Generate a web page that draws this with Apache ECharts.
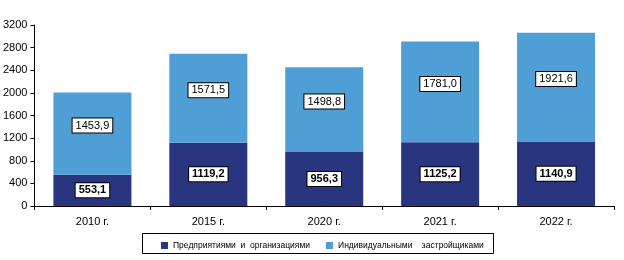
<!DOCTYPE html>
<html>
<head>
<meta charset="utf-8">
<script src="https://cdn.jsdelivr.net/npm/echarts@6/dist/echarts.min.js"></script>
<style>
  html, body { margin: 0; padding: 0; background: #fff; }
  #chart { width: 624px; height: 260px; }
</style>
</head>
<body>
<div id="chart"></div>
<script>
// данные
var years = ['2010 г.', '2015 г.', '2020 г.', '2021 г.', '2022 г.'];
var orgValues = [553.1, 1119.2, 956.3, 1125.2, 1140.9];
var indValues = [1453.9, 1571.5, 1498.8, 1781.0, 1921.6];
var seriesNames = ['Предприятиями  и  организациями', 'Индивидуальными    застройщиками'];

var font = 'Arial, "Liberation Sans", sans-serif';
var fmt = function (p) { return p.value.toFixed(1).replace('.', ','); };

var myChart = echarts.init(document.getElementById('chart'), null, { renderer: 'canvas' });
var option = {
    animation: false,
    backgroundColor: '#fff',
    grid: { left: 34, right: 10, top: 25, bottom: 54 },
    legend: {
        left: 156,
        top: 236,
        itemWidth: 7,
        itemHeight: 7,
        itemGap: 16,
        icon: 'rect',
        textStyle: { fontFamily: font, fontSize: 8.5, color: '#000' },
        data: seriesNames
    },
    graphic: [{
        type: 'rect',
        shape: { x: 142.5, y: 233.5, width: 351, height: 20 },
        style: { fill: 'none', stroke: '#000', lineWidth: 1 },
        z: 10
    }],
    xAxis: {
        type: 'category',
        data: years,
        axisLine: { lineStyle: { color: '#000', width: 1 } },
        axisTick: { show: true, length: 4, lineStyle: { color: '#000' } },
        axisLabel: { fontFamily: font, fontSize: 11, color: '#000', margin: 10 }
    },
    yAxis: {
        type: 'value',
        min: 0,
        max: 3200,
        interval: 400,
        axisLine: { show: true, lineStyle: { color: '#000', width: 1 } },
        axisTick: { show: true, length: 4, lineStyle: { color: '#000' } },
        splitLine: { show: false },
        axisLabel: {
            fontFamily: font, fontSize: 11, color: '#000', margin: 7,
            formatter: function (v) { return String(v); }
        }
    },
    series: [
        {
            name: seriesNames[0],
            type: 'bar',
            stack: 'total',
            barWidth: 78,
            data: orgValues,
            itemStyle: { color: '#29357F' },
            label: {
                show: true,
                position: 'inside',
                formatter: fmt,
                fontFamily: font,
                fontSize: 11,
                fontWeight: 'bold',
                color: '#000',
                backgroundColor: '#fff',
                borderColor: '#000',
                borderWidth: 1,
                padding: [2, 3, 1, 3]
            }
        },
        {
            name: seriesNames[1],
            type: 'bar',
            stack: 'total',
            barWidth: 78,
            data: indValues,
            itemStyle: { color: '#4F9FD6' },
            label: {
                show: true,
                position: 'inside',
                offset: [0, -8],
                formatter: fmt,
                fontFamily: font,
                fontSize: 11,
                color: '#000',
                backgroundColor: '#fff',
                borderColor: '#000',
                borderWidth: 1,
                padding: [2, 3, 1, 3]
            }
        }
    ]
};
myChart.setOption(option);
</script>
</body>
</html>
